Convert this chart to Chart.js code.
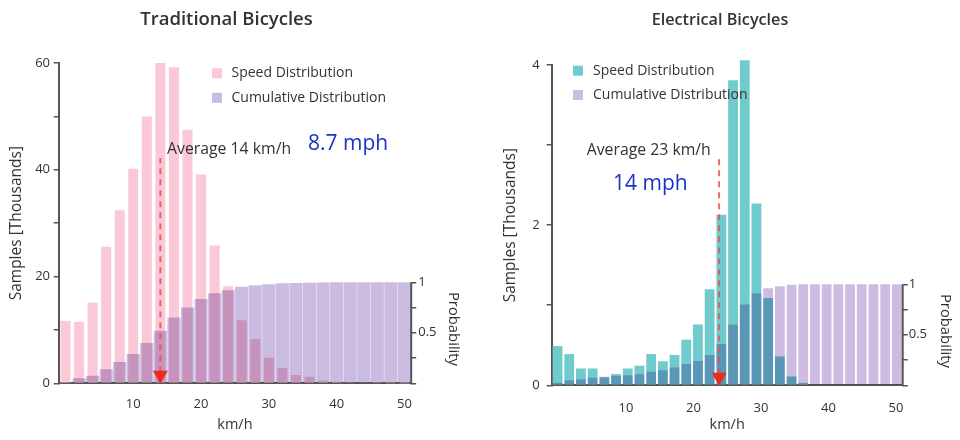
<!DOCTYPE html>
<html><head><meta charset="utf-8">
<script src="https://cdn.jsdelivr.net/npm/chart.js@4.4.1/dist/chart.umd.min.js"></script>
<style>
html,body{margin:0;padding:0;background:#fff;}
#wrap{position:relative;width:960px;height:440px;overflow:hidden;background:#fff;}
canvas{position:absolute;top:0;}
#c1{left:0;} #c2{left:480px;}
</style></head><body>
<div id="wrap"><canvas id="c1" width="480" height="440"></canvas><canvas id="c2" width="480" height="440"></canvas></div>
<script>
// ---------- data ----------
const tradBins = ['0','2','4','6','8','10','12','14','16','18','20','22','24','26','28','30','32','34','36','38','40','42','44','46','48','50'];
const tradSpeed = [11.7,11.5,15.1,25.6,32.4,40.2,50.0,60.0,59.2,47.5,39.1,25.8,18.2,11.8,8.3,4.8,2.85,1.55,1.2,0.5,0.3,0.2,0.1,0.05,0.03,0.02];
const tradCumulative = [0.01,0.05,0.075,0.14,0.21,0.29,0.40,0.52,0.65,0.75,0.835,0.89,0.92,0.955,0.97,0.98,0.99,0.993,0.996,0.998,0.999,1,1,1,1,1];
const tradAverage = 14;
const tradAverageLineTop = 42.2;

const elecBins = ['0','1.7','3.4','5.1','6.8','8.5','10.2','11.9','13.6','15.3','17','18.7','20.4','22.1','23.8','25.5','27.2','28.9','30.6','32.3','34','35.7','37.4','39.1','40.8','42.5','44.2','45.9','47.6','49.3'];
const elecSpeed = [0.49,0.39,0.21,0.21,0.10,0.14,0.21,0.245,0.39,0.30,0.38,0.57,0.76,1.2,2.13,3.81,4.06,2.27,1.09,0.36,0.11,0.03,0.01,0,0,0,0,0,0,0];
const elecCumulative = [0.025,0.05,0.06,0.075,0.085,0.095,0.10,0.11,0.135,0.15,0.175,0.21,0.24,0.30,0.41,0.60,0.80,0.91,0.96,0.98,0.995,1,1,1,1,1,1,1,1,1];
const elecAverage = 23.8;
const elecAverageLineTop = 2.86;

const xTickValues = [10,20,30,40,50];
const probTickValues = [0,0.25,0.5,0.75,1];
const probTickLabels = {0.5:'0.5', 1:'1'};
const seriesNames = ['Speed Distribution','Cumulative Distribution'];

// ---------- plugins ----------
const blendPlugin = {
  id:'blend',
  beforeDatasetDraw(chart,args){const ds=chart.data.datasets[args.index]; if(ds.blend){chart.ctx.save(); chart.ctx.globalCompositeOperation=ds.blend;}},
  afterDatasetDraw(chart,args){const ds=chart.data.datasets[args.index]; if(ds.blend){chart.ctx.restore();}}
};
const extrasPlugin = {
  id:'extras',
  afterDatasetsDraw(chart,args,opts){
    const ctx=chart.ctx, x=chart.scales.x, y=chart.scales.y, y2=chart.scales.y2;
    ctx.save();
    ctx.strokeStyle='#555'; ctx.lineWidth=2;
    ctx.beginPath(); ctx.moveTo(y2.left, y2.getPixelForValue(0)+1); ctx.lineTo(y2.left, y2.getPixelForValue(1)); ctx.stroke();
    const px=x.getPixelForValue(opts.avg), pb=y.getPixelForValue(0);
    ctx.fillStyle='#ee2a1c';
    ctx.beginPath(); ctx.moveTo(px-7.5,pb-12.5); ctx.lineTo(px+7.5,pb-12.5); ctx.lineTo(px,pb+0.5); ctx.closePath(); ctx.fill();
    ctx.restore();
  },
  afterDraw(chart,args,opts){
    const ctx=chart.ctx;
    ctx.save();
    const lg=opts.legend;
    chart.data.datasets.forEach((ds)=>{
      if(!ds.inLegend) return;
      const k=ds.inLegend-1;
      ctx.fillStyle=ds.backgroundColor;
      ctx.fillRect(lg.x, lg.ys[k]-lg.size/2, lg.size, lg.size);
      ctx.fillStyle='#333'; ctx.font=lg.font; ctx.textBaseline='middle'; ctx.textAlign='left';
      ctx.fillText(ds.label, lg.tx, lg.ys[k]);
    });
    opts.notes.forEach(n=>{
      ctx.save();
      ctx.font=n.font; ctx.fillStyle=n.color; ctx.textBaseline='middle';
      ctx.translate(n.x,n.y);
      if(n.rot){ctx.rotate(n.rot); ctx.textAlign='center';} else ctx.textAlign='left';
      ctx.fillText(n.text,0,0);
      ctx.restore();
    });
    ctx.restore();
  }
};

Chart.defaults.font.family="'Open Sans', sans-serif";
Chart.defaults.color='#333';

function build(id,c){
  return new Chart(document.getElementById(id),{
    type:'bar',
    data:{
      labels:c.bins,
      datasets:[
        {type:'line', label:'avg', data:[{x:c.avg,y:0},{x:c.avg,y:c.avgTop}], xAxisID:'x', yAxisID:'y',
         borderColor:'rgba(228,80,80,0.85)', borderWidth:2, borderDash:[6,5], pointRadius:0, order:0},
        {label:seriesNames[1], data:c.cum, xAxisID:'xc', yAxisID:'y2', backgroundColor:c.cumColor,
         barPercentage:c.cumBar, categoryPercentage:1, grouped:false, order:1, blend:'multiply', inLegend:2},
        {label:seriesNames[0], data:c.speed, xAxisID:'xc', yAxisID:'y', backgroundColor:c.speedColor,
         barPercentage:c.speedBar, categoryPercentage:1, grouped:false, order:2, clip:false, inLegend:1}
      ]
    },
    plugins:[blendPlugin,extrasPlugin],
    options:{
      responsive:false, animation:false, devicePixelRatio:1,
      layout:{padding:{left:0,right:c.padRight,top:0,bottom:0}},
      plugins:{
        legend:{display:false}, tooltip:{enabled:false},
        title:{display:true, text:c.title, color:'#333', font:{size:c.titleSize, weight:'600'}, padding:{top:c.titleTop,bottom:c.titleBottom}},
        extras:{avg:c.avg, legend:c.legend, notes:c.notes}
      },
      scales:{
        xc:{type:'category', axis:'x', display:false, offset:true},
        x:{type:'linear', position:'bottom', min:-1, max:51, offset:false,
           afterBuildTicks:s=>{s.ticks=xTickValues.map(v=>({value:v}));},
           afterFit:s=>{s.height=c.xHeight;},
           grid:{display:false, offset:false}, border:{display:true,color:'#555',width:2},
           ticks:{font:{size:13}, color:'#333', padding:c.xPad, maxRotation:0},
           title:{display:true, text:'km/h', font:{size:14.5}, color:'#333', padding:{top:0,bottom:6.3}}},
        y:{type:'linear', position:'left', min:0, max:c.ymax,
           afterFit:s=>{s.width=c.yWidth;},
           grid:{drawOnChartArea:false, drawTicks:true, tickLength:5, color:'#555', lineWidth:1.5},
           border:{display:true,color:'#555',width:2},
           ticks:{stepSize:c.ystep, font:{size:13}, color:'#333', padding:c.yPad, callback:v=>(v%c.ylabelEvery===0?v:'')},
           title:{display:true, text:'Samples [Thousands]', font:{size:15.5}, color:'#333', padding:{top:c.yTitlePad,bottom:0}}},
        y2:{type:'linear', position:'right', min:0, max:3.17,
           afterBuildTicks:s=>{s.ticks=probTickValues.map(v=>({value:v}));},
           afterFit:s=>{s.width=c.y2Width;},
           grid:{drawOnChartArea:false, drawTicks:true, tickLength:5, color:'#555', lineWidth:1.5},
           border:{display:false},
           ticks:{font:{size:13}, color:'#333', padding:c.y2Pad, callback:v=>(probTickLabels[v]||'')}}
      }
    }
  });
}

build('c1',{
  bins:tradBins, speed:tradSpeed, cum:tradCumulative, avg:tradAverage, avgTop:tradAverageLineTop,
  speedColor:'rgb(250,200,214)', cumColor:'rgb(202,187,224)', speedBar:0.74, cumBar:0.97,
  title:'Traditional Bicycles', titleSize:18.5, titleTop:9, titleBottom:31.8, padRight:27,
  ymax:60, ystep:10, ylabelEvery:20, yWidth:58.7, y2Width:41.8, xHeight:56.7, xPad:5.6, yPad:3.7, y2Pad:2, yTitlePad:7.7,
  legend:{x:212, size:10, ys:[73.3,97.8], tx:231.5, font:"14px 'Open Sans', sans-serif"},
  notes:[
    {text:'Average 14 km/h', x:167, y:149, font:"15.8px 'Open Sans', sans-serif", color:'#333'},
    {text:'8.7 mph', x:308, y:144, font:"21px 'Open Sans', sans-serif", color:'rgb(25,50,200)'},
    {text:'Probability', x:453, y:329, rot:Math.PI/2, font:"14.8px 'Open Sans', sans-serif", color:'#333'}
  ]
});
build('c2',{
  bins:elecBins, speed:elecSpeed, cum:elecCumulative, avg:elecAverage, avgTop:elecAverageLineTop,
  speedColor:'rgb(112,204,204)', cumColor:'rgb(205,187,226)', speedBar:0.84, cumBar:0.84,
  title:'Electrical Bicycles', titleSize:16.2, titleTop:10.5, titleBottom:35.1, padRight:0,
  ymax:4, ystep:1, ylabelEvery:2, yWidth:71.7, y2Width:57.3, xHeight:54.7, xPad:7, yPad:7, y2Pad:1, yTitlePad:21.2,
  legend:{x:93, size:10, ys:[70.7,95], tx:113, font:"14px 'Open Sans', sans-serif"},
  notes:[
    {text:'Average 23 km/h', x:106.7, y:150, font:"15.8px 'Open Sans', sans-serif", color:'#333'},
    {text:'14 mph', x:133, y:184, font:"21px 'Open Sans', sans-serif", color:'rgb(25,50,200)'},
    {text:'Probability', x:465, y:331, rot:Math.PI/2, font:"14.8px 'Open Sans', sans-serif", color:'#333'}
  ]
});
</script>
</body></html>
